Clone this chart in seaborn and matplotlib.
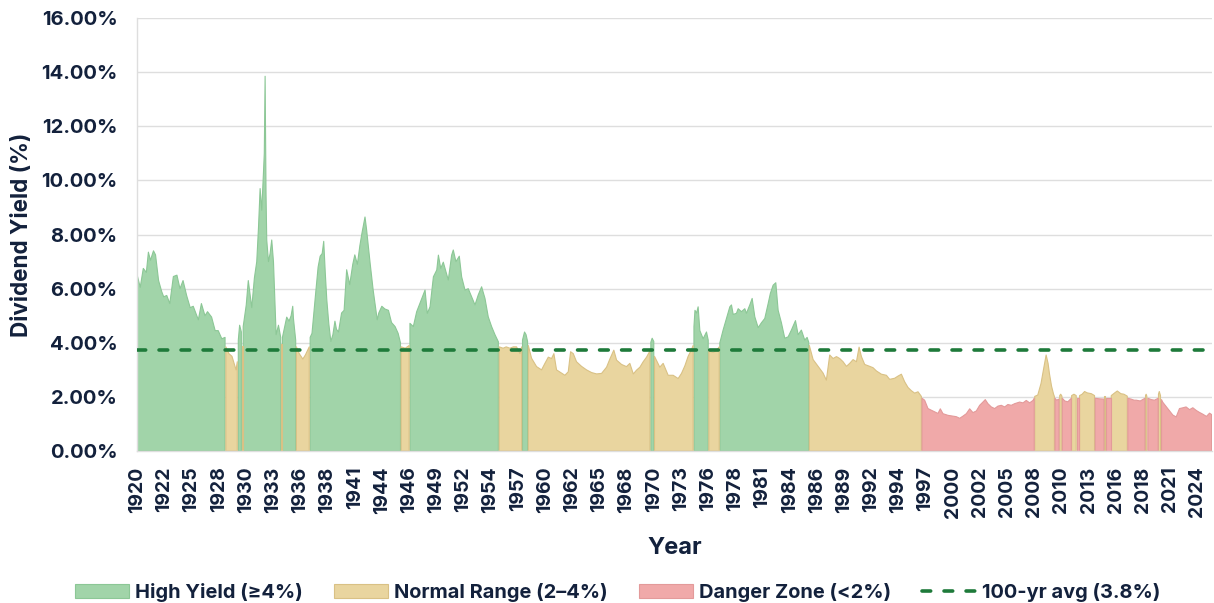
import numpy as np
import matplotlib
matplotlib.use("Agg")
import matplotlib.pyplot as plt
from matplotlib.patches import Patch
from matplotlib.lines import Line2D
import seaborn as sns

# ---------------- data ----------------
years = [
    1920.0, 1920.3, 1920.6, 1920.9, 1921.1, 1921.3, 1921.6, 1921.8, 1922.1, 1922.4,
    1922.6, 1922.9, 1923.2, 1923.55, 1923.9, 1924.2, 1924.5, 1924.85, 1925.2, 1925.5,
    1926.0, 1926.3, 1926.65, 1926.9, 1927.3, 1927.65, 1927.95, 1928.3, 1928.62,
    1928.7, 1929.0, 1929.3, 1929.7, 1929.82,
    1929.92, 1930.05, 1930.22,
    1930.28, 1930.34,
    1930.4, 1930.7, 1930.9, 1931.24, 1931.5, 1931.73, 1931.9, 1932.06, 1932.22, 1932.39,
    1932.47, 1932.55, 1932.64, 1932.71, 1932.88, 1933.04, 1933.2, 1933.37, 1933.63, 1933.86,
    1934.08,
    1934.13, 1934.19,
    1934.25, 1934.67, 1934.9, 1935.1, 1935.26, 1935.33, 1935.55,
    1935.62, 1935.9, 1936.25, 1936.5, 1936.88,
    1936.97, 1937.15, 1937.5, 1937.75, 1937.95, 1938.15, 1938.3, 1938.45, 1938.6, 1938.8,
    1939.0, 1939.2, 1939.4, 1939.55, 1939.75, 1940.05, 1940.3, 1940.55, 1940.85, 1941.15,
    1941.35, 1941.6, 1941.85, 1942.05, 1942.35, 1942.5, 1942.85, 1943.15, 1943.55, 1943.7,
    1944.0, 1944.3, 1944.65, 1944.95, 1945.3, 1945.6, 1945.83,
    1945.9, 1946.3, 1946.68,
    1946.76, 1947.09, 1947.42, 1947.75, 1948.24, 1948.46, 1948.73, 1949.06, 1949.39, 1949.55,
    1949.78, 1950.03, 1950.52, 1950.85, 1951.01, 1951.27, 1951.6, 1951.83, 1952.16, 1952.48,
    1952.81, 1953.14, 1953.46, 1953.79, 1954.12, 1954.44, 1954.77, 1955.1, 1955.43,
    1955.52, 1955.9, 1956.2, 1956.57, 1956.9, 1957.22, 1957.55, 1957.72,
    1957.8, 1958.0, 1958.15, 1958.3,
    1958.37, 1958.69, 1959.18, 1959.67, 1960.0, 1960.33, 1960.65, 1960.88, 1961.14, 1961.63,
    1961.96, 1962.29, 1962.52, 1962.78, 1963.1, 1963.59, 1964.08, 1964.58, 1965.07, 1965.56,
    1966.05, 1966.37, 1966.76, 1967.03, 1967.52, 1968.0, 1968.33, 1968.67, 1968.99, 1969.32,
    1969.64, 1969.97, 1970.3,
    1970.39, 1970.52, 1970.68,
    1970.75, 1971.27, 1971.6, 1972.09, 1972.58, 1973.07, 1973.4, 1973.73, 1974.05, 1974.38,
    1974.54,
    1974.62, 1974.72, 1974.88, 1975.03, 1975.2, 1975.52, 1975.85, 1976.02,
    1976.08, 1976.5, 1976.8, 1977.1,
    1977.16, 1977.48, 1977.81, 1978.14, 1978.3, 1978.47, 1978.79, 1978.96, 1979.28, 1979.61,
    1979.77, 1980.1, 1980.33, 1980.59, 1980.92, 1981.24, 1981.57, 1981.9, 1982.12, 1982.39,
    1982.65, 1982.88, 1983.2, 1983.53, 1983.86, 1984.18, 1984.58, 1984.84, 1985.16, 1985.49,
    1985.72, 1985.88,
    1985.94, 1986.31, 1986.8, 1987.29, 1987.61, 1987.94, 1988.27, 1988.6, 1988.92, 1989.25,
    1989.58, 1989.9, 1990.23, 1990.56, 1990.82, 1991.05, 1991.37, 1991.86, 1992.19, 1992.52,
    1993.01, 1993.5, 1993.82, 1994.31, 1994.64, 1994.97, 1995.29, 1995.62, 1995.95, 1996.27,
    1996.6, 1996.93,
    1997.0, 1997.25, 1997.58, 1997.9, 1998.23, 1998.56, 1998.79, 1999.05, 1999.54, 2000.03,
    2000.36, 2000.69, 2001.01, 2001.34, 2001.67, 2001.99, 2002.32, 2002.65, 2002.97, 2003.2,
    2003.46, 2003.79, 2004.12, 2004.44, 2004.77, 2005.1, 2005.42, 2005.75, 2006.08, 2006.57,
    2006.9, 2007.22, 2007.55, 2007.88, 2008.0,
    2008.05, 2008.35, 2008.67, 2008.9, 2009.17, 2009.36, 2009.5, 2009.7, 2009.9, 2009.98,
    2010.04, 2010.2, 2010.43,
    2010.5, 2010.6, 2010.72,
    2010.76, 2011.0, 2011.3, 2011.64,
    2011.67, 2011.9, 2012.12,
    2012.19, 2012.39,
    2012.45, 2012.7, 2012.94, 2013.2, 2013.6, 2013.92,
    2013.99, 2014.4, 2014.84,
    2014.88, 2014.95,
    2015.0, 2015.49,
    2015.56, 2015.9, 2016.15, 2016.5, 2016.8, 2017.13,
    2017.19, 2017.5, 2017.8, 2018.01, 2018.4, 2018.86,
    2018.92, 2018.98, 2019.05,
    2019.15, 2019.5, 2019.8, 2020.16,
    2020.19, 2020.27, 2020.39,
    2020.49, 2020.62, 2021.1, 2021.6, 2021.93, 2022.25, 2022.6, 2022.9, 2023.24, 2023.56,
    2023.9, 2024.2, 2024.55, 2024.9, 2025.2, 2025.4,
]

yields = [
    6.5, 6.05, 6.75, 6.6, 7.35, 7.05, 7.4, 7.25, 6.3, 5.9,
    5.7, 5.75, 5.45, 6.45, 6.5, 6.0, 6.3, 5.75, 5.3, 5.35,
    4.85, 5.45, 5.0, 5.15, 4.95, 4.45, 4.45, 4.15, 4.2,
    3.85, 3.6, 3.5, 3.0, 3.3,
    4.1, 4.65, 4.4,
    3.9, 3.9,
    4.6, 5.4, 6.3, 5.3, 6.4, 7.0, 8.25, 9.7, 8.9, 10.3,
    11.0, 13.85, 9.5, 7.8, 7.0, 7.3, 7.8, 7.0, 4.3, 4.65,
    4.2,
    3.95, 3.95,
    4.2, 4.95, 4.8, 5.0, 5.35, 4.9, 4.1,
    3.85, 3.6, 3.4, 3.55, 3.85,
    4.2, 4.35, 5.8, 6.8, 7.2, 7.3, 7.75, 6.6, 5.6, 4.7,
    4.05, 4.3, 4.8, 4.5, 4.4, 5.1, 5.2, 6.7, 6.15, 6.9,
    7.25, 6.9, 7.6, 8.05, 8.65, 8.2, 6.95, 5.95, 4.85, 5.1,
    5.35, 5.25, 5.2, 4.75, 4.6, 4.35, 4.0,
    3.85, 3.8, 3.9,
    4.72, 4.6, 5.15, 5.47, 5.95, 5.09, 5.33, 6.44, 6.69, 7.24,
    6.75, 6.98, 6.32, 7.24, 7.43, 7.0, 7.2, 6.44, 5.95, 6.0,
    5.7, 5.4, 5.77, 6.07, 5.64, 4.96, 4.6, 4.3, 4.04,
    3.85, 3.8, 3.85, 3.8, 3.85, 3.85, 3.6, 3.85,
    4.1, 4.4, 4.3, 4.05,
    3.9, 3.43, 3.12, 3.0, 3.24, 3.47, 3.42, 3.6, 3.0, 2.88,
    2.8, 2.93, 3.67, 3.6, 3.3, 3.13, 3.0, 2.9, 2.85, 2.87,
    3.1, 3.4, 3.73, 3.36, 3.2, 3.12, 3.24, 2.85, 2.99, 3.1,
    3.3, 3.47, 3.7,
    4.02, 4.17, 4.05,
    3.5, 3.1, 3.24, 2.8, 2.8, 2.68, 2.87, 3.15, 3.5, 3.75,
    3.9,
    4.6, 5.2, 5.1, 5.33, 4.45, 4.15, 4.4, 4.1,
    3.7, 3.65, 3.7, 3.85,
    4.0, 4.47, 4.9, 5.33, 5.4, 5.05, 5.09, 5.26, 5.15, 5.26,
    5.09, 5.4, 5.64, 4.96, 4.56, 4.74, 4.9, 5.45, 5.83, 6.13,
    6.22, 5.2, 4.74, 4.17, 4.22, 4.47, 4.82, 4.3, 4.47, 4.1,
    4.2, 4.02,
    3.9, 3.38, 3.13, 2.88, 2.62, 3.55, 3.42, 3.49, 3.42, 3.3,
    3.13, 3.24, 3.38, 3.3, 3.84, 3.49, 3.2, 3.13, 3.08, 2.96,
    2.84, 2.8, 2.65, 2.69, 2.77, 2.84, 2.56, 2.35, 2.23, 2.14,
    2.19, 2.02,
    1.95, 1.88, 1.57, 1.51, 1.45, 1.39, 1.56, 1.38, 1.32, 1.29,
    1.27, 1.21, 1.29, 1.38, 1.56, 1.42, 1.48, 1.69, 1.81, 1.9,
    1.75, 1.63, 1.57, 1.66, 1.69, 1.63, 1.72, 1.69, 1.75, 1.81,
    1.78, 1.87, 1.78, 1.87, 1.95,
    2.02, 2.07, 2.5, 2.99, 3.55, 3.24, 2.85, 2.4, 2.1, 2.02,
    1.95, 1.88, 1.92,
    2.05, 2.1, 2.03,
    1.95, 1.85, 1.82, 1.95,
    2.05, 2.1, 2.05,
    1.95, 1.95,
    2.05, 2.1, 2.2, 2.15, 2.12, 2.05,
    1.95, 1.93, 1.92,
    2.02, 2.02,
    1.95, 1.95,
    2.05, 2.15, 2.22, 2.12, 2.1, 2.03,
    1.95, 1.92, 1.88, 1.88, 1.85, 1.95,
    2.05, 2.1, 2.03,
    1.95, 1.9, 1.88, 1.95,
    2.1, 2.2, 2.05,
    1.9, 1.8, 1.57, 1.33, 1.26, 1.57, 1.6, 1.63, 1.53, 1.6,
    1.5, 1.43, 1.36, 1.28, 1.4, 1.35,
]

avg_yield = 3.74
high_threshold = 4.0
danger_threshold = 2.0

zone_labels = ["High Yield (≥4%)", "Normal Range (2–4%)", "Danger Zone (<2%)"]
avg_label = "100-yr avg (3.8%)"

x_tick_labels = ["1920", "1922", "1925", "1928", "1930", "1933", "1936", "1938", "1941", "1944",
                 "1946", "1949", "1952", "1954", "1957", "1960", "1962", "1965", "1968", "1970",
                 "1973", "1976", "1978", "1981", "1984", "1986", "1989", "1992", "1994", "1997",
                 "2000", "2002", "2005", "2008", "2010", "2013", "2016", "2018", "2021", "2024"]
y_ticks = [0, 2, 4, 6, 8, 10, 12, 14, 16]

# ---------------- style ----------------
sns.set_theme(style="white")
plt.rcParams["font.family"] = ["Inter", "DejaVu Sans"]
plt.rcParams["font.weight"] = "bold"

TEXT = "#13213c"
fills = ["#a1d4a9", "#e9d59f", "#f0a9a9"]
edges = ["#8cc796", "#d9c185", "#e39a9a"]
avg_color = "#1e7a3a"
grid_color = "#dedede"
avg_dash = (0, (2.4, 3.7))

x = np.array(years)
y = np.array(yields)
zone = np.where(y >= high_threshold, 0, np.where(y >= danger_threshold, 1, 2))

fig = plt.figure(figsize=(12.14, 6.03), dpi=100)
ax = fig.add_axes([0.113, 0.252, 0.885, 0.718])

for k in range(3):
    ax.fill_between(x, 0, y, where=(zone == k), facecolor=fills[k], edgecolor=edges[k],
                    linewidth=0.8, zorder=2)

ax.axhline(avg_yield, color=avg_color, linestyle=avg_dash, linewidth=2.6,
           dash_capstyle="round", zorder=3)

ax.set_xlim(1920, 2025.4)
ax.set_ylim(0, 16)
ax.set_yticks(y_ticks)
ax.set_yticklabels([f"{v:.2f}%" for v in y_ticks])
tick_pos = [1920 + i * 32 / 12 for i in range(len(x_tick_labels))]
ax.set_xticks(tick_pos)
ax.set_xticklabels(x_tick_labels, rotation=90)

ax.tick_params(axis="y", length=0, pad=14, labelsize=14.5, labelcolor=TEXT)
ax.tick_params(axis="x", length=0, pad=11, labelsize=14, labelcolor=TEXT)
for lab in ax.get_xticklabels() + ax.get_yticklabels():
    lab.set_fontweight("bold")

ax.yaxis.grid(True, color=grid_color, linewidth=1.0, zorder=0)
ax.xaxis.grid(False)
ax.set_axisbelow(True)
sns.despine(ax=ax, top=True, right=True)
for s in ["left", "bottom"]:
    ax.spines[s].set_color(grid_color)
    ax.spines[s].set_linewidth(1.0)

ax.set_ylabel("Dividend Yield (%)", fontsize=16.2, fontweight="bold", color=TEXT, labelpad=6)
ax.set_xlabel("Year", fontsize=17, fontweight="bold", color=TEXT, labelpad=14)

handles = [Patch(facecolor=fills[k], edgecolor=edges[k], linewidth=0.8) for k in range(3)]
handles.append(Line2D([0], [0], color=avg_color, linestyle=avg_dash, linewidth=2.6,
                      dash_capstyle="round"))
leg = fig.legend(handles, zone_labels + [avg_label], loc="lower center",
                 bbox_to_anchor=(0.509, -0.028), ncol=4, frameon=False,
                 prop={"size": 14.4, "weight": "bold"}, handlelength=2.7, handleheight=0.75,
                 handletextpad=0.3, columnspacing=1.55)
for t in leg.get_texts():
    t.set_color(TEXT)

fig.savefig("out.png", dpi=100)
